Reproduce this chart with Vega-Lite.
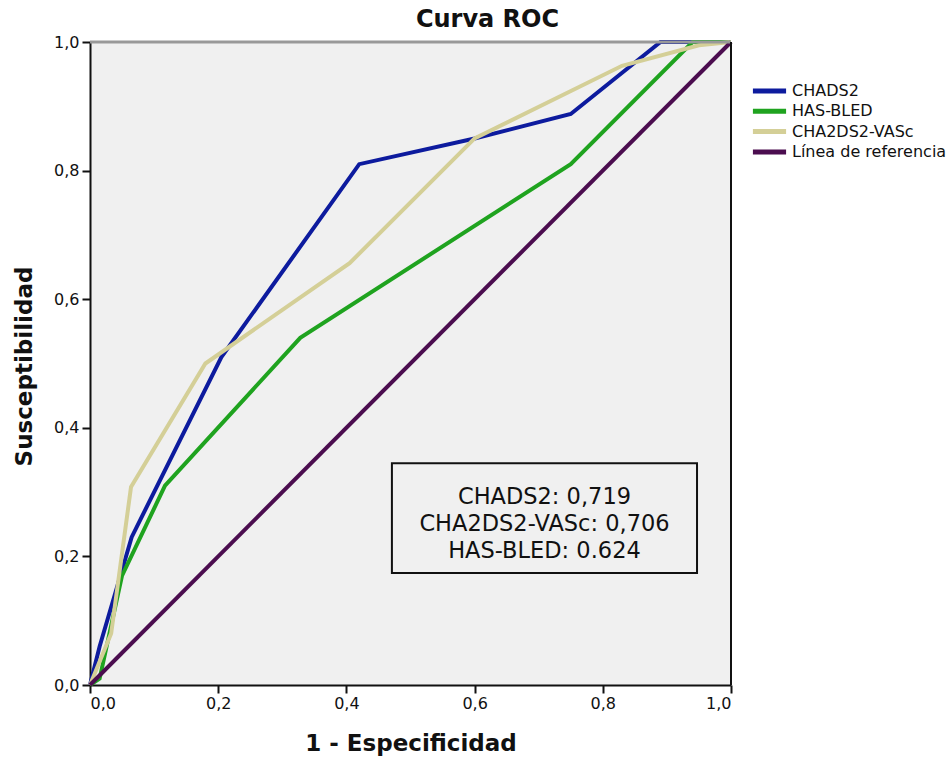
{
  "$schema": "https://vega.github.io/schema/vega-lite/v6.json",
  "width": 641,
  "height": 643,
  "autosize": {"type": "none"},
  "padding": {"left": 90, "top": 42, "right": 221, "bottom": 72},
  "background": "white",
  "title": {"text": "Curva ROC", "font": "DejaVu Sans", "fontWeight": "bold", "fontSize": 24, "color": "#111", "anchor": "middle", "dx": 77, "offset": 2},
  "config": {
    "view": {"fill": "#f0f0f0", "stroke": null},
    "font": "DejaVu Sans"
  },
  "datasets": {
    "roc": [
      {"serie": "CHADS2", "fpr": 0.0, "tpr": 0.0},
      {"serie": "CHADS2", "fpr": 0.015, "tpr": 0.06},
      {"serie": "CHADS2", "fpr": 0.065, "tpr": 0.23},
      {"serie": "CHADS2", "fpr": 0.205, "tpr": 0.51},
      {"serie": "CHADS2", "fpr": 0.42, "tpr": 0.81},
      {"serie": "CHADS2", "fpr": 0.6, "tpr": 0.85},
      {"serie": "CHADS2", "fpr": 0.75, "tpr": 0.888},
      {"serie": "CHADS2", "fpr": 0.89, "tpr": 1.0},
      {"serie": "CHADS2", "fpr": 1.0, "tpr": 1.0},
      {"serie": "HAS-BLED", "fpr": 0.0, "tpr": 0.0},
      {"serie": "HAS-BLED", "fpr": 0.015, "tpr": 0.01},
      {"serie": "HAS-BLED", "fpr": 0.05, "tpr": 0.17},
      {"serie": "HAS-BLED", "fpr": 0.117, "tpr": 0.31},
      {"serie": "HAS-BLED", "fpr": 0.328, "tpr": 0.54},
      {"serie": "HAS-BLED", "fpr": 0.75, "tpr": 0.81},
      {"serie": "HAS-BLED", "fpr": 0.94, "tpr": 1.0},
      {"serie": "HAS-BLED", "fpr": 1.0, "tpr": 1.0},
      {"serie": "CHA2DS2-VASc", "fpr": 0.0, "tpr": 0.0},
      {"serie": "CHA2DS2-VASc", "fpr": 0.033, "tpr": 0.08},
      {"serie": "CHA2DS2-VASc", "fpr": 0.064, "tpr": 0.308},
      {"serie": "CHA2DS2-VASc", "fpr": 0.18, "tpr": 0.5},
      {"serie": "CHA2DS2-VASc", "fpr": 0.405, "tpr": 0.656},
      {"serie": "CHA2DS2-VASc", "fpr": 0.6, "tpr": 0.85},
      {"serie": "CHA2DS2-VASc", "fpr": 0.83, "tpr": 0.963},
      {"serie": "CHA2DS2-VASc", "fpr": 0.95, "tpr": 0.995},
      {"serie": "CHA2DS2-VASc", "fpr": 1.0, "tpr": 1.0},
      {"serie": "Línea de referencia", "fpr": 0.0, "tpr": 0.0},
      {"serie": "Línea de referencia", "fpr": 1.0, "tpr": 1.0}
    ],
    "box": [
      {"x1": 0.471, "x2": 0.947, "y1": 0.174, "y2": 0.345}
    ],
    "auc": [
      {"label": "CHADS2: 0,719", "x": 0.709, "y": 0.292},
      {"label": "CHA2DS2-VASc: 0,706", "x": 0.709, "y": 0.25},
      {"label": "HAS-BLED: 0.624", "x": 0.709, "y": 0.208}
    ]
  },
  "layer": [
    {
      "data": {"name": "box"},
      "mark": {"type": "rect", "fill": "#f0f0f0", "stroke": "#111", "strokeWidth": 2},
      "encoding": {
        "x": {"field": "x1", "type": "quantitative", "scale": {"domain": [0, 1], "nice": false}},
        "x2": {"field": "x2"},
        "y": {"field": "y1", "type": "quantitative", "scale": {"domain": [0, 1], "nice": false}},
        "y2": {"field": "y2"}
      }
    },
    {
      "data": {"name": "roc"},
      "mark": {"type": "line", "strokeWidth": 4, "strokeJoin": "miter"},
      "encoding": {
        "x": {
          "field": "fpr", "type": "quantitative",
          "scale": {"domain": [0, 1], "nice": false},
          "axis": {
            "title": "1 - Especificidad",
            "values": [0, 0.2, 0.4, 0.6, 0.8, 1.0],
            "labelExpr": "replace(format(datum.value, '.1f'), '.', ',')",
            "grid": false,
            "domainColor": "#111", "domainWidth": 2,
            "tickColor": "#111", "tickWidth": 2, "tickSize": 8,
            "labelFont": "DejaVu Sans", "labelFontSize": 16, "labelColor": "#111", "labelPadding": 2,
            "titleFont": "DejaVu Sans", "titleFontWeight": "bold", "titleFontSize": 23, "titleColor": "#111",
            "titleY": 47, "titleBaseline": "top"
          }
        },
        "y": {
          "field": "tpr", "type": "quantitative",
          "scale": {"domain": [0, 1], "nice": false},
          "axis": {
            "title": "Susceptibilidad",
            "values": [0, 0.2, 0.4, 0.6, 0.8, 1.0],
            "labelExpr": "replace(format(datum.value, '.1f'), '.', ',')",
            "grid": false,
            "domainColor": "#111", "domainWidth": 2,
            "tickColor": "#111", "tickWidth": 2, "tickSize": 8,
            "labelFont": "DejaVu Sans", "labelFontSize": 16, "labelColor": "#111", "labelPadding": 3,
            "titleFont": "DejaVu Sans", "titleFontWeight": "bold", "titleFontSize": 23, "titleColor": "#111",
            "titleX": -66, "titleY": 324, "titleAngle": -90, "titleBaseline": "middle", "titleAlign": "center"
          }
        },
        "color": {
          "field": "serie", "type": "nominal",
          "scale": {
            "domain": ["CHADS2", "HAS-BLED", "CHA2DS2-VASc", "Línea de referencia"],
            "range": ["#0d1b9e", "#1fa31f", "#d4cf97", "#4b0d4f"]
          },
          "legend": {
            "title": null,
            "orient": "none",
            "legendX": 660,
            "legendY": 39,
            "padding": 0,
            "symbolType": "stroke",
            "symbolSize": 1100,
            "symbolStrokeWidth": 5,
            "clipHeight": 20,
            "rowPadding": 0.3,
            "labelFont": "DejaVu Sans",
            "labelFontSize": 16,
            "labelColor": "#111",
            "labelOffset": 3
          }
        },
        "order": {"field": "fpr", "type": "quantitative"}
      }
    },
    {
      "data": {"values": [{"v": 1}]},
      "mark": {"type": "rule", "color": "#999", "strokeWidth": 3},
      "encoding": {"y": {"datum": 1, "type": "quantitative"}}
    },
    {
      "data": {"values": [{"v": 1}]},
      "mark": {"type": "rule", "color": "#111", "strokeWidth": 2},
      "encoding": {"x": {"datum": 1, "type": "quantitative"}}
    },
    {
      "data": {"name": "auc"},
      "mark": {"type": "text", "font": "DejaVu Sans", "fontSize": 22.5, "color": "#111", "align": "center", "baseline": "middle"},
      "encoding": {
        "x": {"field": "x", "type": "quantitative"},
        "y": {"field": "y", "type": "quantitative"},
        "text": {"field": "label"}
      }
    }
  ]
}
